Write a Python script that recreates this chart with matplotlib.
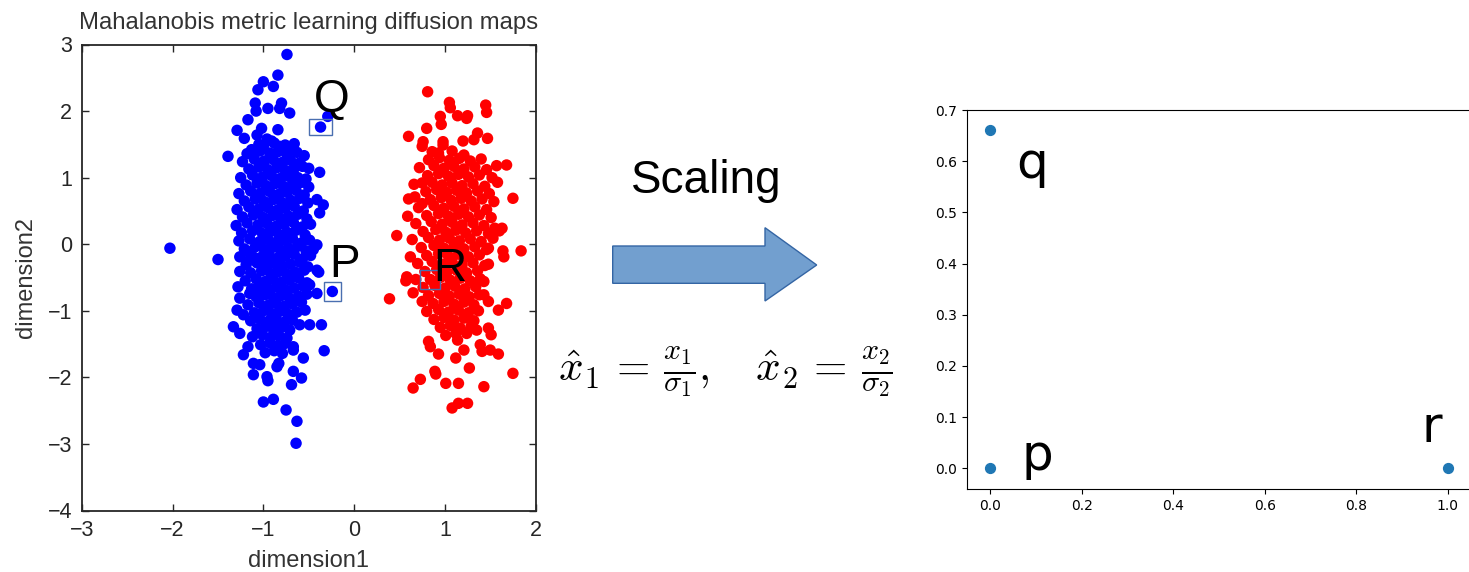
import matplotlib
matplotlib.use("Agg")
import matplotlib.pyplot as plt
from matplotlib.patches import Rectangle, Polygon

plt.rcParams['mathtext.fontset'] = 'cm'

# ---- left panel: two clusters (dimension1, dimension2) ----
blue_x = [
    -0.74, -0.84, -1.00, -0.89, -1.06, -1.09, -1.08, -0.95, -0.80, -0.82,
    -0.71, -1.17, -0.29, -0.37, -1.29, -1.21, -1.02, -1.07, -0.84, -1.39,
    -1.13, -0.38, -0.50, -0.41, -0.34, -0.38, -0.96, -0.91, -1.00, -0.82, -0.71,
    -2.03, -1.50, -1.26, -1.17, -1.18, -1.28, -1.15, -1.26, -1.06, -1.29,
    -1.22, -1.33, -1.26, -1.17, -1.22, -1.11, -1.04, -1.11, -0.96, -0.95,
    -0.83, -0.85, -0.67, -0.67, -0.56, -0.67, -0.58, -0.69, -1.00, -0.89,
    -0.75, -0.63, -0.64, -0.33, -0.36, -0.49, -0.60, -0.41, -0.49, -0.41,
    -0.39, -0.41, -0.45, -0.24,
    -1.05, -0.88, -0.76, -0.66,
    -1.18, -1.04, -0.93, -0.84, -0.74, -0.63, -0.55,
    -1.23, -1.10, -0.99, -0.89, -0.79, -0.70, -0.60,
    -1.16, -1.05, -0.95, -0.85, -0.76, -0.66, -0.57,
    -1.25, -1.12, -1.01, -0.91, -0.81, -0.72, -0.62, -0.53,
    -1.19, -1.07, -0.97, -0.87, -0.78, -0.68, -0.58, -0.50,
    -1.27, -1.14, -1.03, -0.93, -0.83, -0.74, -0.64, -0.55,
    -1.21, -1.09, -0.99, -0.89, -0.80, -0.70, -0.60, -0.51,
    -1.29, -1.16, -1.05, -0.95, -0.85, -0.76, -0.66, -0.56,
    -1.23, -1.11, -1.00, -0.90, -0.81, -0.72, -0.62, -0.52,
    -1.30, -1.18, -1.06, -0.96, -0.86, -0.77, -0.67, -0.57, -0.48,
    -1.24, -1.12, -1.01, -0.92, -0.83, -0.74, -0.64, -0.54,
    -1.27, -1.15, -1.04, -0.95, -0.86, -0.77, -0.68, -0.58, -0.49,
    -1.21, -1.09, -0.99, -0.90, -0.81, -0.72, -0.62, -0.53,
    -1.26, -1.13, -1.03, -0.94, -0.85, -0.76, -0.66, -0.57, -0.48,
    -1.19, -1.07, -0.97, -0.88, -0.79, -0.70, -0.60, -0.51,
    -1.14, -1.02, -0.92, -0.83, -0.74, -0.65, -0.55,
    -1.20, -1.08, -0.98, -0.89, -0.80, -0.71, -0.61, -0.52,
    -1.13, -1.02, -0.93, -0.84, -0.75, -0.66, -0.56,
    -1.08, -0.98, -0.89, -0.80, -0.71, -0.61, -0.52,
    -1.17, -1.05, -0.95, -0.86, -0.77, -0.68, -0.58,
    -1.10, -1.00, -0.91, -0.82, -0.73, -0.63, -0.54,
    -1.14, -1.04, -0.95, -0.86, -0.77, -0.68,
    -1.07, -0.98, -0.89, -0.80, -0.71,
    -1.12, -1.01, -0.92, -0.83, -0.74,
    -1.03, -0.93, -0.84, -0.76,
    -0.98, -0.88, -0.79,
]
blue_y = [
    2.85, 2.54, 2.44, 2.37, 2.32, 2.12, 2.00, 2.04, 2.12, 2.04,
    1.97, 1.87, 1.92, 1.76, 1.71, 1.59, 1.74, 1.64, 1.72, 1.32,
    1.42, 1.08, 1.14, 0.67, 0.59, 0.47, 1.58, 1.55, 1.47, 1.47, 1.44,
    -0.06, -0.23, -0.41, -0.11, -0.26, -0.64, -0.74, -0.81, -0.66, -0.99,
    -1.06, -1.24, -1.34, -1.54, -1.66, -1.79, -1.81, -1.96, -1.99, -2.05,
    -1.79, -1.84, -1.54, -1.59, -1.71, -1.91, -2.01, -2.11, -2.37, -2.33,
    -2.49, -2.66, -2.99, -1.60, -1.21, -1.21, -1.21, -0.74, -0.61, -0.39,
    -0.42, -0.01, -0.08, -0.71,
    1.50, 1.52, 1.49, 1.51,
    1.36, 1.40, 1.37, 1.39, 1.35, 1.38, 1.33,
    1.24, 1.28, 1.25, 1.27, 1.23, 1.26, 1.22,
    1.13, 1.16, 1.12, 1.15, 1.11, 1.14, 1.17,
    1.00, 1.04, 1.01, 1.03, 0.99, 1.02, 1.00, 0.98,
    0.89, 0.92, 0.88, 0.91, 0.87, 0.90, 0.93, 0.86,
    0.76, 0.80, 0.77, 0.79, 0.75, 0.78, 0.81, 0.74,
    0.65, 0.68, 0.64, 0.67, 0.63, 0.66, 0.69, 0.62,
    0.52, 0.56, 0.53, 0.55, 0.51, 0.54, 0.57, 0.50,
    0.41, 0.44, 0.40, 0.43, 0.39, 0.42, 0.45, 0.38,
    0.28, 0.32, 0.29, 0.31, 0.27, 0.30, 0.33, 0.26, 0.30,
    0.17, 0.20, 0.16, 0.19, 0.15, 0.18, 0.21, 0.14,
    0.05, 0.08, 0.04, 0.07, 0.03, 0.06, 0.09, 0.02, 0.06,
    -0.07, -0.04, -0.08, -0.05, -0.09, -0.06, -0.03, -0.10,
    -0.19, -0.16, -0.20, -0.17, -0.21, -0.18, -0.15, -0.22, -0.17,
    -0.31, -0.28, -0.32, -0.29, -0.33, -0.30, -0.27, -0.34,
    -0.43, -0.40, -0.44, -0.41, -0.45, -0.42, -0.39,
    -0.55, -0.52, -0.56, -0.53, -0.57, -0.54, -0.51, -0.58,
    -0.67, -0.64, -0.68, -0.65, -0.69, -0.66, -0.63,
    -0.79, -0.76, -0.80, -0.77, -0.81, -0.78, -0.75,
    -0.91, -0.88, -0.92, -0.89, -0.93, -0.90, -0.87,
    -1.03, -1.00, -1.04, -1.01, -1.05, -1.02, -0.99,
    -1.15, -1.12, -1.16, -1.13, -1.17, -1.14,
    -1.27, -1.24, -1.28, -1.25, -1.29,
    -1.39, -1.36, -1.40, -1.37, -1.41,
    -1.51, -1.48, -1.52, -1.49,
    -1.63, -1.60, -1.64,
]

red_x = [
    0.81, 1.05, 1.06, 1.45, 1.46, 1.14, 1.25, 1.24, 0.95, 0.96,
    0.80, 0.60, 0.76, 0.75, 0.98, 0.98, 1.20, 1.36, 1.32, 1.47,
    1.57, 1.68, 0.75, 1.75, 0.60, 0.67, 0.75, 0.59, 0.47, 1.84,
    1.65, 0.62, 1.64, 1.48, 0.58, 0.57, 0.65, 0.39, 0.75, 1.43,
    1.43, 1.68, 1.59, 1.48, 1.51, 1.35, 1.24, 1.14, 0.82, 0.84,
    0.93, 1.21, 1.12, 1.39, 1.41, 1.50, 1.59, 1.27, 0.89, 0.90,
    0.73, 0.65, 1.01, 1.15, 1.43, 1.75, 1.08, 1.15, 1.25, 0.84,
    1.63, 1.55, 1.48,
    0.86, 0.93, 1.08, 1.21,
    0.82, 0.94, 1.05, 1.16, 1.28, 1.40,
    0.72, 0.88, 0.99, 1.10, 1.21, 1.33, 1.46,
    0.81, 0.93, 1.04, 1.15, 1.26, 1.38, 1.52,
    0.66, 0.86, 0.97, 1.08, 1.19, 1.31, 1.44, 1.58,
    0.79, 0.91, 1.02, 1.13, 1.24, 1.36, 1.49,
    0.84, 0.96, 1.07, 1.18, 1.29, 1.41, 1.54,
    0.71, 0.88, 0.99, 1.10, 1.21, 1.33, 1.46,
    0.80, 0.93, 1.04, 1.15, 1.26, 1.38, 1.51,
    0.68, 0.85, 0.97, 1.08, 1.19, 1.31, 1.43,
    0.76, 0.90, 1.01, 1.12, 1.23, 1.35, 1.48, 1.60,
    0.64, 0.82, 0.94, 1.05, 1.16, 1.28, 1.40, 1.53,
    0.74, 0.88, 0.99, 1.10, 1.21, 1.33, 1.46,
    0.80, 0.93, 1.04, 1.15, 1.26, 1.38,
    0.70, 0.86, 0.97, 1.08, 1.19, 1.31, 1.44,
    0.78, 0.91, 1.02, 1.13, 1.24, 1.36,
    0.68, 0.95, 1.06, 1.17, 1.28, 1.39,
    0.76, 0.89, 1.00, 1.11, 1.22, 1.34,
    0.82, 0.94, 1.05, 1.16, 1.27, 1.38,
    0.87, 0.99, 1.10, 1.21, 1.32, 1.48,
    0.80, 0.93, 1.04, 1.15, 1.26, 1.37,
    0.88, 0.99, 1.10, 1.21, 1.32,
    0.95, 1.06, 1.17, 1.29,
    1.01, 1.12,
]
red_y = [
    2.29, 2.13, 2.05, 2.09, 1.98, 1.93, 1.93, 1.89, 1.92, 1.80,
    1.74, 1.62, 1.54, 1.47, 1.54, 1.49, 1.55, 1.67, 1.57, 1.59,
    1.18, 1.19, 0.92, 0.69, 0.68, 0.71, 0.61, 0.42, 0.13, -0.10,
    -0.19, -0.19, -0.10, -0.30, -0.49, -0.55, -0.73, -0.82, -0.86, -0.56,
    -0.76, -0.89, -0.99, -1.26, -1.36, -1.29, -1.34, -1.44, -1.46, -1.54,
    -1.65, -1.59, -1.71, -1.51, -1.61, -1.59, -1.65, -1.86, -1.91, -1.95,
    -2.03, -2.16, -2.09, -2.09, -2.14, -1.94, -2.46, -2.39, -2.39, -0.53,
    0.24, 0.24, -0.06,
    1.39, 1.37, 1.40, 1.34,
    1.27, 1.30, 1.26, 1.29, 1.25, 1.28,
    1.15, 1.18, 1.14, 1.17, 1.13, 1.16, 1.12,
    1.03, 1.06, 1.02, 1.05, 1.01, 1.04, 1.00,
    0.90, 0.93, 0.89, 0.92, 0.88, 0.91, 0.87, 0.93,
    0.79, 0.82, 0.78, 0.81, 0.77, 0.80, 0.76,
    0.67, 0.70, 0.66, 0.69, 0.65, 0.68, 0.64,
    0.55, 0.58, 0.54, 0.57, 0.53, 0.56, 0.52,
    0.43, 0.46, 0.42, 0.45, 0.41, 0.44, 0.40,
    0.31, 0.34, 0.30, 0.33, 0.29, 0.32, 0.28,
    0.19, 0.22, 0.18, 0.21, 0.17, 0.20, 0.16, 0.20,
    0.07, 0.10, 0.06, 0.09, 0.05, 0.08, 0.04, 0.09,
    -0.05, -0.02, -0.06, -0.03, -0.07, -0.04, -0.08,
    -0.17, -0.14, -0.18, -0.15, -0.19, -0.16,
    -0.29, -0.26, -0.30, -0.27, -0.31, -0.28, -0.32,
    -0.41, -0.38, -0.42, -0.39, -0.43, -0.40,
    -0.53, -0.50, -0.54, -0.51, -0.55, -0.52,
    -0.65, -0.62, -0.66, -0.63, -0.67, -0.64,
    -0.77, -0.74, -0.78, -0.75, -0.79, -0.76,
    -0.89, -0.86, -0.90, -0.87, -0.91, -0.86,
    -1.01, -0.98, -1.02, -0.99, -1.03, -1.00,
    -1.13, -1.10, -1.14, -1.11, -1.15,
    -1.25, -1.22, -1.26, -1.23,
    -1.37, -1.34,
]

# highlighted points: name, point, box size, label position
marked_names = ['Q', 'P', 'R']
marked_x = [-0.37, -0.24, 0.84]
marked_y = [1.76, -0.71, -0.53]
box_w = [0.25, 0.18, 0.22]
box_h = [0.25, 0.29, 0.29]
label_x = [-0.25, -0.11, 1.06]
label_y = [1.98, -0.49, -0.56]

# ---- right panel: scaled points ----
scaled_names = ['q', 'p', 'r']
scaled_x = [0.0, 0.0, 1.0]
scaled_y = [0.66, 0.0, 0.0]
scaled_lx = [0.093, 0.103, 0.965]
scaled_ly = [0.568, -0.003, 0.051]

W, H = 1469, 572
fig = plt.figure(figsize=(W / 100, H / 100), dpi=100)

gray = '#262626'
ax1 = fig.add_axes([81.9 / W, 1 - 510.5 / H, 453.7 / W, 466 / H])
ax1.scatter(blue_x, blue_y, s=68, c='#0000ff', edgecolors='none')
ax1.scatter(red_x, red_y, s=68, c='#ff0000', edgecolors='none')
for i in range(3):
    ax1.add_patch(Rectangle((marked_x[i] - box_w[i] / 2, marked_y[i] - box_h[i] / 2),
                            box_w[i], box_h[i], fill=False, ec='#4a6fb0', lw=1.0))
    ax1.text(label_x[i], label_y[i], marked_names[i], fontsize=33, ha='center',
             va='baseline', family='Liberation Sans', color='black')
ax1.set_xlim(-3, 2)
ax1.set_ylim(-4, 3)
ax1.set_xticks(range(-3, 3))
ax1.set_yticks(range(-4, 4))
ax1.tick_params(direction='in', top=True, right=True, length=5, width=1,
                color=gray, labelcolor=gray, labelsize=15.5, pad=7)
for lab in ax1.get_xticklabels() + ax1.get_yticklabels():
    lab.set_family('Liberation Sans')
for sp in ax1.spines.values():
    sp.set_color(gray)
    sp.set_linewidth(1.3)
ax1.set_title('Mahalanobis metric learning diffusion maps', fontsize=17.2,
              color='#333333', family='Liberation Sans', pad=11)
ax1.set_xlabel('dimension1', fontsize=17, color='#333333', family='Liberation Sans', labelpad=6)
ax1.set_ylabel('dimension2', fontsize=17, color='#333333', family='Liberation Sans', labelpad=8)

# ---- middle: Scaling arrow and formula ----
fig.text(706.7 / W, 1 - 193.3 / H, 'Scaling', fontsize=33, ha='center', va='baseline',
         family='Liberation Sans', color='black')
arrow_px = [(612.7, 246), (765, 246), (765, 227.7), (816.7, 265),
            (765, 301), (765, 283.3), (612.7, 283.3)]
fig.patches.append(Polygon([(px / W, 1 - py / H) for px, py in arrow_px], closed=True,
                           transform=fig.transFigure, fc='#729fcf', ec='#3465a4', lw=1))
fig.text(725.8 / W, 1 - 372 / H,
         r'$\hat{x}_1 \,=\, \frac{x_1}{\sigma_1},\quad \hat{x}_2 \,=\, \frac{x_2}{\sigma_2}$',
         fontsize=31, ha='center', va='center')

# ---- right panel ----
ax2 = fig.add_axes([(990 - 0.05 * 457.9) / W, 1 - 489.3 / H, 1.1 * 457.9 / W, 379.3 / H])
ax2.scatter(scaled_x, scaled_y, s=50, c='#1f77b4')
for i in range(3):
    ax2.text(scaled_lx[i], scaled_ly[i], scaled_names[i], fontsize=36, ha='center',
             va='baseline')
ax2.set_xlim(-0.05, 1.05)
ax2.set_ylim(-0.041, 0.70)
ax2.set_xticks([0.0, 0.2, 0.4, 0.6, 0.8, 1.0])
ax2.set_yticks([0.0, 0.1, 0.2, 0.3, 0.4, 0.5, 0.6, 0.7])

fig.savefig('out.png', dpi=100)
